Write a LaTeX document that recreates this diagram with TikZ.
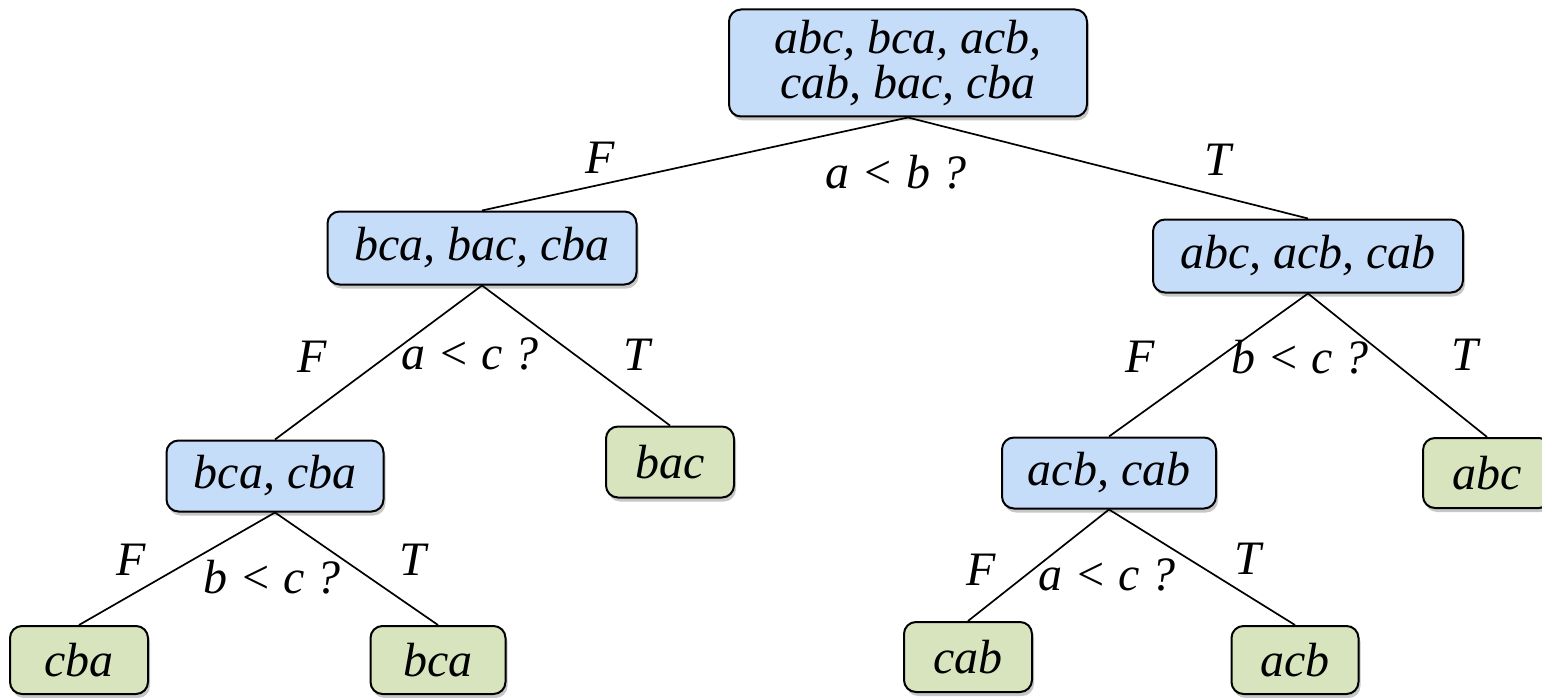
\documentclass[tikz,border=0pt]{standalone}
\usepackage{fontspec}
\setmainfont{Liberation Serif}
\newfontfamily\tms{Liberation Serif}
\usetikzlibrary{shadows}
\definecolor{boxblue}{RGB}{198,221,250}
\definecolor{boxgreen}{RGB}{215,228,189}
\tikzset{
  base/.style={draw=black, line width=2pt, rounded corners=12pt, inner sep=0pt,
    font=\tms\fontsize{48}{45}\selectfont\itshape, align=center,
    drop shadow={shadow xshift=2pt, shadow yshift=-4pt, fill=black, opacity=0.22}},
  inner/.style={base, fill=boxblue},
  leaf/.style={base, fill=boxgreen},
  lbl/.style={font=\tms\fontsize{48}{45}\selectfont\itshape, inner sep=0pt},
  edge/.style={draw=black, line width=1.7pt}
}
\begin{document}
\begin{tikzpicture}[x=1pt,y=-1pt]
\useasboundingbox (0,0) rectangle (1542,698);
% nodes
\node[inner, minimum width=358pt, minimum height=107pt] (root) at (908,63) {abc, bca, acb,\\cab, bac, cba};
\node[inner, minimum width=309pt, minimum height=73pt] (L) at (482,248) {bca, bac, cba};
\node[inner, minimum width=310pt, minimum height=73pt] (R) at (1308,256) {abc, acb, cab};
\node[inner, minimum width=217pt, minimum height=71pt] (LL) at (275,476) {bca, cba};
\node[leaf, minimum width=128pt, minimum height=71pt] (LR) at (670,462) {bac};
\node[inner, minimum width=214pt, minimum height=71pt] (RL) at (1109,473) {acb, cab};
\node[leaf, minimum width=128pt, minimum height=70pt] (RR) at (1487,473) {abc};
\node[leaf, minimum width=138pt, minimum height=68pt] (LLL) at (79,660) {cba};
\node[leaf, minimum width=135pt, minimum height=68pt] (LLR) at (438,660) {bca};
\node[leaf, minimum width=128pt, minimum height=70pt] (RLL) at (968,657) {cab};
\node[leaf, minimum width=127pt, minimum height=68pt] (RLR) at (1295,660) {acb};
% edges
\draw[edge] (root.south) -- (L.north);
\draw[edge] (root.south) -- (R.north);
\draw[edge] (L.south) -- (LL.north);
\draw[edge] (L.south) -- (LR.north);
\draw[edge] (R.south) -- (RL.north);
\draw[edge] (R.south) -- (RR.north);
\draw[edge] (LL.south) -- (LLL.north);
\draw[edge] (LL.south) -- (LLR.north);
\draw[edge] (RL.south) -- (RLL.north);
\draw[edge] (RL.south) -- (RLR.north);
% labels
\node[lbl] (f0) at (600,158) {F};
\node[lbl] (t0) at (1218,160) {T};
\node[lbl] (q0) at (896,172) {a < b ?};
\node[lbl] (f1) at (312,357) {F};
\node[lbl] (q1) at (470,354) {a < c ?};
\node[lbl] (t1) at (637,355) {T};
\node[lbl] (f2) at (1140,357) {F};
\node[lbl] (q2) at (1300,357) {b < c ?};
\node[lbl] (t2) at (1465,355) {T};
\node[lbl] (f3) at (131,560) {F};
\node[lbl] (q3) at (272,577) {b < c ?};
\node[lbl] (t3) at (413,560) {T};
\node[lbl] (f4) at (981,570) {F};
\node[lbl] (q4) at (1107,575) {a < c ?};
\node[lbl] (t4) at (1248,559) {T};
\end{tikzpicture}
\end{document}
